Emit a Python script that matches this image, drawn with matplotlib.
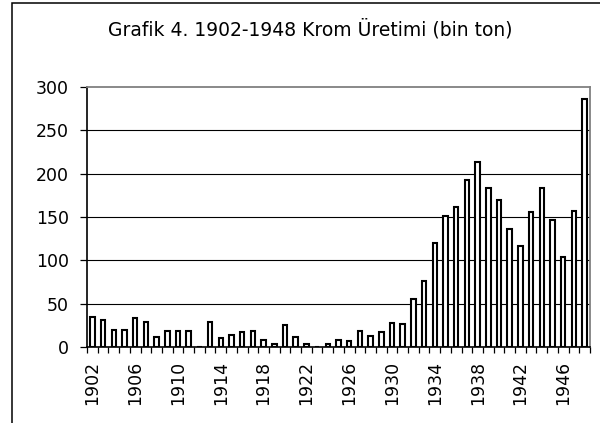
import numpy as np
import matplotlib.pyplot as plt
from matplotlib.patches import Rectangle

plt.rcParams['font.family'] = ['DejaVu Sans']

# Data: chrome production 1902-1948 (thousand tons)
years = list(range(1902, 1949))
values = [35, 31, 20, 20, 33, 29, 12, 18, 18, 18, 0, 29, 10, 14, 17, 18,
          8, 4, 25, 11, 3, 0, 4, 8, 7, 19, 13, 17, 28, 26, 55,
          76, 120, 151, 161, 193, 214, 184, 170, 136, 117, 156, 183, 147,
          104, 157, 286]
title = 'Grafik 4. 1902-1948 Krom Üretimi (bin ton)'

fig = plt.figure(figsize=(6, 4.23), dpi=100)
ax = fig.add_axes([87/600, 1 - 347/423, (590 - 87)/600, (347 - 87)/423])

x = np.arange(len(years))
ax.bar(x, values, width=0.42, color='white', edgecolor='black', linewidth=1.5, zorder=3)

ax.set_xlim(-0.5, len(years) - 0.5)
ax.set_ylim(0, 300)
ax.set_yticks(range(0, 301, 50))
for v in range(50, 300, 50):
    ax.axhline(v, color='black', linewidth=0.8, zorder=1)

# major ticks carry labels at every 4th year, minor ticks mark category boundaries
lab_idx = [i for i, y in enumerate(years) if (y - 1902) % 4 == 0]
ax.set_xticks(lab_idx)
ax.set_xticklabels([str(years[i]) for i in lab_idx], rotation=90)
ax.set_xticks(np.arange(-0.5, len(years)), minor=True)
ax.tick_params(axis='x', which='major', length=0, pad=10, labelsize=12.5)
ax.tick_params(axis='x', which='minor', length=4, width=0.9, color='black', direction='out')
ax.tick_params(axis='y', length=5, width=0.9, pad=8, labelsize=12.5, direction='out')

for s in ['top', 'right']:
    ax.spines[s].set_color('#808080')
    ax.spines[s].set_linewidth(1.3)
for s in ['left', 'bottom']:
    ax.spines[s].set_color('black')
    ax.spines[s].set_linewidth(1.2)
ax.spines['bottom'].set_zorder(4)

fig.text(0.517, 1 - 29/423, title, ha='center', va='center', fontsize=13.5)

# outer chart frame
fig.patches.append(Rectangle((12/600, -0.1), 1.2, 1.1 - 3.5/423,
                             transform=fig.transFigure, fill=False,
                             edgecolor='black', linewidth=1.1))

fig.savefig('out.png', dpi=100)
